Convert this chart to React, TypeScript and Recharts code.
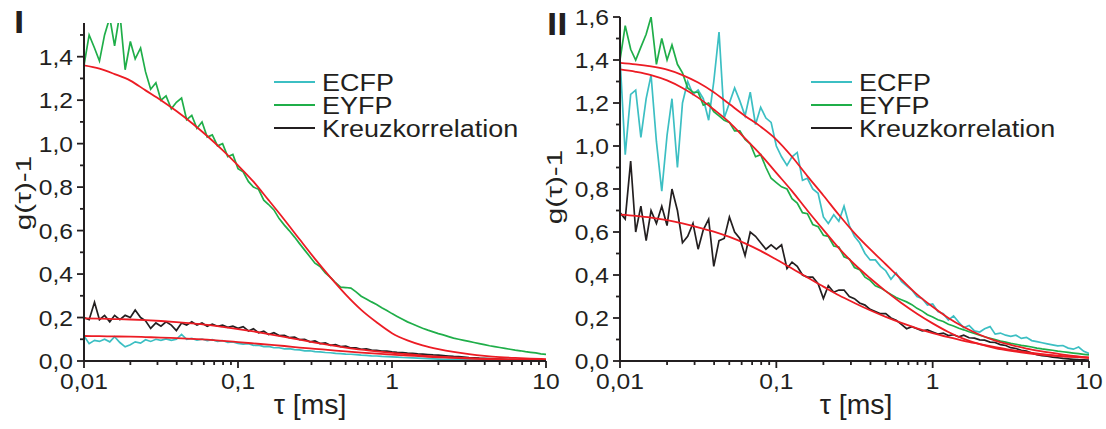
import { LineChart, Line, XAxis, YAxis, Legend } from "recharts";

const FONT = "'Liberation Sans', Arial, Helvetica, sans-serif";
const INK = "#231f20";
const CYAN = "#3cbfc3";
const GREEN = "#1fae49";
const RED = "#ec1c24";

// lag times of the correlator channels [ms]
const TAU = [
  0.01, 0.0108, 0.0117, 0.0126, 0.0136, 0.0147, 0.0158, 0.0171, 0.0185, 0.02,
  0.0215, 0.0233, 0.0251, 0.0271, 0.0293, 0.0316, 0.0341, 0.0369, 0.0398, 0.043,
  0.0464, 0.0501, 0.0541, 0.0584, 0.0631, 0.0681, 0.0736, 0.0794, 0.0858, 0.0926,
  0.1, 0.108, 0.117, 0.126, 0.136, 0.147, 0.158, 0.171, 0.185, 0.2,
  0.215, 0.233, 0.251, 0.271, 0.293, 0.316, 0.341, 0.369, 0.398, 0.43,
  0.464, 0.501, 0.541, 0.584, 0.631, 0.681, 0.736, 0.794, 0.858, 0.926,
  1, 1.08, 1.17, 1.26, 1.36, 1.47, 1.58, 1.71, 1.85, 2,
  2.15, 2.33, 2.51, 2.71, 2.93, 3.16, 3.41, 3.69, 3.98, 4.3,
  4.64, 5.01, 5.41, 5.84, 6.31, 6.81, 7.36, 7.94, 8.58, 9.26,
  10,
];

// lag times of the fit curves [ms]
const FIT_TAU = [
  0.01, 0.0126, 0.0158, 0.02, 0.0251, 0.0316, 0.0398, 0.0501, 0.0631, 0.0794,
  0.1, 0.126, 0.158, 0.2, 0.251, 0.316, 0.398, 0.501, 0.631, 0.794,
  1, 1.26, 1.58, 2, 2.51, 3.16, 3.98, 5.01, 6.31, 7.94, 10,
];

// ---- panel I ----
const I_ECFP = [
  0.115, 0.08, 0.095, 0.09, 0.1, 0.088, 0.112, 0.085, 0.065, 0.075,
  0.088, 0.082, 0.098, 0.09, 0.1, 0.095, 0.102, 0.095, 0.1, 0.122,
  0.1, 0.104, 0.096, 0.101, 0.094, 0.098, 0.09, 0.094, 0.086, 0.088,
  0.081, 0.078, 0.08, 0.072, 0.073, 0.066, 0.067, 0.061, 0.061, 0.056,
  0.057, 0.052, 0.051, 0.047, 0.047, 0.043, 0.042, 0.039, 0.038, 0.035,
  0.034, 0.032, 0.031, 0.029, 0.027, 0.026, 0.024, 0.023, 0.021, 0.02,
  0.019, 0.018, 0.016, 0.015, 0.014, 0.013, 0.012, 0.011, 0.01, 0.009,
  0.008, 0.0075, 0.007, 0.006, 0.0055, 0.005, 0.0045, 0.004, 0.0035, 0.003,
  0.003, 0.0025, 0.002, 0.002, 0.0015, 0.001, 0.001, 0.001, 0.0005, 0.0005,
  0,
];
const I_EYFP = [
  1.36, 1.5, 1.44, 1.38, 1.5, 1.58, 1.45, 1.6, 1.34, 1.47,
  1.39, 1.44, 1.33, 1.25, 1.28, 1.2, 1.22, 1.16, 1.19, 1.21,
  1.11, 1.13, 1.07, 1.1, 1.03, 1.04, 0.99, 1.0, 0.94, 0.95,
  0.885, 0.87, 0.825, 0.8, 0.79, 0.74, 0.72, 0.695, 0.655, 0.625,
  0.6, 0.57, 0.54, 0.51, 0.48, 0.45, 0.435, 0.405, 0.385, 0.36,
  0.34, 0.338, 0.335, 0.318, 0.298, 0.285, 0.272, 0.26, 0.245, 0.232,
  0.218, 0.205, 0.192, 0.18, 0.17, 0.16, 0.151, 0.142, 0.134, 0.126,
  0.12, 0.112, 0.105, 0.1, 0.095, 0.09, 0.085, 0.08, 0.075, 0.07,
  0.066, 0.062, 0.058, 0.054, 0.05, 0.047, 0.043, 0.04, 0.037, 0.033,
  0.03,
];
const I_KREUZ = [
  0.2, 0.19, 0.27, 0.19, 0.21, 0.18, 0.21, 0.19, 0.21, 0.2,
  0.235, 0.2, 0.185, 0.15, 0.175, 0.16, 0.18, 0.165, 0.14, 0.175,
  0.165, 0.18, 0.165, 0.175, 0.16, 0.17, 0.16, 0.165, 0.155, 0.16,
  0.15, 0.158, 0.138, 0.148, 0.13, 0.137, 0.122, 0.13, 0.117, 0.118,
  0.108, 0.11, 0.098, 0.1, 0.088, 0.092, 0.08, 0.083, 0.072, 0.075,
  0.066, 0.068, 0.06, 0.061, 0.054, 0.056, 0.05, 0.049, 0.046, 0.045,
  0.042, 0.04, 0.039, 0.036, 0.035, 0.033, 0.032, 0.03, 0.028, 0.027,
  0.025, 0.023, 0.021, 0.02, 0.018, 0.016, 0.015, 0.013, 0.012, 0.011,
  0.01, 0.009, 0.008, 0.007, 0.006, 0.005, 0.005, 0.004, 0.004, 0.003,
  0.003,
];
const I_ECFP_FIT = [
  0.115, 0.114, 0.113, 0.112, 0.11, 0.108, 0.105, 0.102, 0.098, 0.093,
  0.087, 0.081, 0.075, 0.069, 0.062, 0.056, 0.05, 0.044, 0.039, 0.034,
  0.029, 0.025, 0.021, 0.017, 0.014, 0.011, 0.009, 0.007, 0.006, 0.005, 0.004,
];
const I_EYFP_FIT = [
  1.36, 1.345, 1.32, 1.29, 1.245, 1.2, 1.15, 1.095, 1.035, 0.97,
  0.9, 0.825, 0.74, 0.65, 0.56, 0.47, 0.385, 0.305, 0.235, 0.178,
  0.128, 0.095, 0.072, 0.055, 0.042, 0.032, 0.024, 0.018, 0.014, 0.011, 0.009,
];
const I_KREUZ_FIT = [
  0.196, 0.195, 0.193, 0.191, 0.188, 0.184, 0.179, 0.173, 0.166, 0.157,
  0.147, 0.136, 0.124, 0.111, 0.098, 0.085, 0.073, 0.062, 0.052, 0.044,
  0.037, 0.031, 0.025, 0.02, 0.016, 0.013, 0.01, 0.008, 0.006, 0.005, 0.004,
];

// ---- panel II ----
const II_ECFP = [
  1.41, 0.96, 1.24, 1.26, 1.04, 1.22, 1.33, 1.02, 0.79, 1.05,
  1.22, 0.9, 1.2, 1.3, 1.24, 1.26, 1.22, 1.12, 1.3, 1.53,
  1.13, 1.2, 1.27, 1.21, 1.14, 1.25, 1.1, 1.18, 1.13, 1.11,
  1.0, 0.95, 0.91, 0.95, 0.97, 0.84, 0.85, 0.8, 0.78, 0.67,
  0.64, 0.68, 0.65, 0.72, 0.63, 0.58, 0.55, 0.5, 0.47, 0.47,
  0.44, 0.42, 0.38, 0.41, 0.37, 0.35, 0.33, 0.3, 0.29, 0.26,
  0.265, 0.23, 0.22, 0.19, 0.21, 0.18, 0.155, 0.165, 0.14, 0.135,
  0.15, 0.16, 0.125, 0.13, 0.12, 0.115, 0.12, 0.105, 0.11, 0.095,
  0.09, 0.085, 0.08, 0.075, 0.07, 0.072, 0.06, 0.055, 0.065, 0.045,
  0.035,
];
const II_EYFP = [
  1.4, 1.56, 1.45, 1.4, 1.46, 1.52, 1.6, 1.38, 1.5, 1.4,
  1.47, 1.38, 1.34, 1.27, 1.25, 1.25, 1.19, 1.2, 1.16, 1.14,
  1.12, 1.11, 1.07, 1.07, 1.03, 1.01, 0.95, 0.96, 0.9, 0.85,
  0.83, 0.81, 0.8, 0.755, 0.735, 0.69, 0.685, 0.635, 0.625, 0.585,
  0.58, 0.535, 0.53, 0.485, 0.475, 0.435, 0.425, 0.39, 0.375, 0.35,
  0.34, 0.325, 0.31, 0.295, 0.285, 0.275, 0.262, 0.245, 0.232, 0.215,
  0.205, 0.192, 0.184, 0.171, 0.163, 0.152, 0.145, 0.136, 0.128, 0.12,
  0.113, 0.106, 0.1, 0.093, 0.088, 0.082, 0.078, 0.073, 0.069, 0.065,
  0.06, 0.056, 0.053, 0.05, 0.046, 0.043, 0.04, 0.037, 0.034, 0.031,
  0.028,
];
const II_KREUZ = [
  0.69, 0.66, 0.93, 0.6, 0.72, 0.56, 0.7, 0.64, 0.72, 0.63,
  0.8, 0.7, 0.55, 0.58, 0.64, 0.52, 0.61, 0.66, 0.44, 0.56,
  0.57, 0.67, 0.6, 0.57, 0.49, 0.6, 0.58, 0.55, 0.52, 0.54,
  0.52, 0.54, 0.43, 0.46, 0.44, 0.4, 0.39, 0.39, 0.36, 0.29,
  0.35, 0.32, 0.33, 0.33, 0.3, 0.29, 0.27, 0.26, 0.24, 0.23,
  0.22, 0.22, 0.2, 0.19, 0.17, 0.15, 0.16, 0.15, 0.14, 0.145,
  0.135, 0.125, 0.13, 0.118, 0.122, 0.112, 0.12, 0.108, 0.106, 0.098,
  0.097, 0.088, 0.086, 0.076, 0.072, 0.062, 0.058, 0.05, 0.046, 0.037,
  0.03, 0.025, 0.022, 0.018, 0.015, 0.012, 0.01, 0.008, 0.006, 0.005,
  0.004,
];
const II_ECFP_FIT = [
  1.387, 1.38, 1.37, 1.355, 1.33, 1.295, 1.25, 1.195, 1.14, 1.09,
  1.03, 0.95, 0.86, 0.77, 0.68, 0.595, 0.52, 0.45, 0.38, 0.31,
  0.252, 0.2, 0.158, 0.122, 0.095, 0.075, 0.058, 0.045, 0.034, 0.024, 0.016,
];
const II_EYFP_FIT = [
  1.356, 1.345, 1.33, 1.305, 1.27, 1.225, 1.17, 1.11, 1.035, 0.96,
  0.875, 0.79, 0.7, 0.61, 0.525, 0.45, 0.385, 0.325, 0.27, 0.22,
  0.175, 0.135, 0.103, 0.078, 0.06, 0.047, 0.037, 0.029, 0.023, 0.019, 0.016,
];
const II_KREUZ_FIT = [
  0.681, 0.675, 0.667, 0.655, 0.64, 0.622, 0.602, 0.577, 0.547, 0.512,
  0.472, 0.43, 0.388, 0.346, 0.306, 0.27, 0.236, 0.205, 0.177, 0.152,
  0.13, 0.111, 0.094, 0.079, 0.065, 0.052, 0.041, 0.032, 0.025, 0.019, 0.015,
];

const X_TICKS = [
  0.01, 0.02, 0.03, 0.04, 0.05, 0.06, 0.07, 0.08, 0.09,
  0.1, 0.2, 0.3, 0.4, 0.5, 0.6, 0.7, 0.8, 0.9,
  1, 2, 3, 4, 5, 6, 7, 8, 9, 10,
];
const X_MAJOR = [0.01, 0.1, 1, 10];
const Y_TICKS_I = [0, 0.1, 0.2, 0.3, 0.4, 0.5, 0.6, 0.7, 0.8, 0.9, 1, 1.1, 1.2, 1.3, 1.4, 1.5];
const Y_TICKS_II = [...Y_TICKS_I, 1.6];

const LEGEND = [
  { name: "ECFP", color: CYAN },
  { name: "EYFP", color: GREEN },
  { name: "Kreuzkorrelation", color: INK },
];

const pts = (ts: number[], vs: number[]) => ts.map((t, i) => ({ t, v: vs[i] }));
const comma = (v: number, digits?: number) =>
  (digits === undefined ? String(v) : v.toFixed(digits)).replace(".", ",");

function Txt({ x, y, size, anchor = "start", sx = 1.12, rotate, bold, children }: any) {
  const tf = `translate(${x},${y})${rotate ? ` rotate(${rotate})` : ""} scale(${sx},1)`;
  return (
    <text transform={tf} textAnchor={anchor} fontSize={size} fontFamily={FONT}
      fontWeight={bold ? "bold" : "normal"} fill={INK}>
      {children}
    </text>
  );
}

function XTick({ x, y, payload }: any) {
  const v = payload.value;
  const major = X_MAJOR.includes(v);
  return (
    <g>
      <line x1={x} x2={x} y1={y} y2={y + (major ? 7 : 4)} stroke={INK} strokeWidth={1.8} />
      {major && <Txt x={x} y={y + 28} size={22} anchor="middle">{comma(v)}</Txt>}
    </g>
  );
}

function YTick({ x, y, payload }: any) {
  const v = payload.value;
  const major = Math.round(v * 10) % 2 === 0;
  return (
    <g>
      <line x1={x - (major ? 7 : 4)} x2={x} y1={y} y2={y} stroke={INK} strokeWidth={1.8} />
      {major && <Txt x={x - 11} y={y + 8} size={22} anchor="end">{comma(v, 1)}</Txt>}
    </g>
  );
}

function LegendBox() {
  return (
    <svg width={280} height={72} style={{ overflow: "visible" }}>
      {LEGEND.map((d, k) => {
        const y = 12 + k * 23;
        return (
          <g key={d.name}>
            <line x1={0} x2={41} y1={y} y2={y} stroke={d.color} strokeWidth={2} />
            <Txt x={48} y={y + 9} size={24.5} sx={1.1}>{d.name}</Txt>
          </g>
        );
      })}
    </svg>
  );
}

type PanelProps = {
  left: number;
  width: number;
  margin: { top: number; right: number; bottom: number; left: number };
  yMax: number;
  yTicks: number[];
  ecfp: number[];
  eyfp: number[];
  kreuz: number[];
  ecfpFit: number[];
  eyfpFit: number[];
  kreuzFit: number[];
  legendLeft: number;
  letter: string;
  letterX: number;
  letterY: number;
  yTitleX: number;
  yTitleY: number;
  xTitleX: number;
};

function Panel(p: PanelProps) {
  const axisLine = { stroke: INK, strokeWidth: 2 };
  return (
    <div style={{ position: "absolute", left: p.left, top: 0 }}>
      <LineChart width={p.width} height={429} margin={p.margin}>
        <XAxis
          type="number" dataKey="t" scale="log" domain={[0.01, 10]} allowDataOverflow
          ticks={X_TICKS} interval={0} tick={<XTick />} tickLine={false} tickSize={0} tickMargin={0}
          axisLine={axisLine} height={30}
          label={() => <Txt x={p.xTitleX} y={414} size={27} anchor="middle" sx={1.05}>τ [ms]</Txt>}
        />
        <YAxis
          type="number" domain={[0, p.yMax]} allowDataOverflow
          ticks={p.yTicks} interval={0} tick={<YTick />} tickLine={false} tickSize={0} tickMargin={0}
          axisLine={axisLine} width={50}
          label={() => (
            <g>
              <Txt x={p.yTitleX} y={p.yTitleY} size={22} anchor="middle" rotate={-90} sx={1.35}>g(τ)-1</Txt>
              <Txt x={p.letterX} y={p.letterY} size={32} bold sx={1.15}>{p.letter}</Txt>
            </g>
          )}
        />
        <Legend
          verticalAlign="middle" align="center"
          content={() => <LegendBox />}
          wrapperStyle={{ left: p.legendLeft, top: 70, width: 280, height: 72 }}
        />
        <Line data={pts(TAU, p.ecfp)} dataKey="v" name="ECFP" type="linear" stroke={CYAN}
          strokeWidth={1.7} dot={false} isAnimationActive={false} />
        <Line data={pts(TAU, p.eyfp)} dataKey="v" name="EYFP" type="linear" stroke={GREEN}
          strokeWidth={1.7} dot={false} isAnimationActive={false} />
        <Line data={pts(TAU, p.kreuz)} dataKey="v" name="Kreuzkorrelation" type="linear" stroke={INK}
          strokeWidth={1.7} dot={false} isAnimationActive={false} />
        <Line data={pts(FIT_TAU, p.ecfpFit)} dataKey="v" name="ECFP fit" type="monotone" stroke={RED}
          strokeWidth={1.8} dot={false} isAnimationActive={false} legendType="none" />
        <Line data={pts(FIT_TAU, p.eyfpFit)} dataKey="v" name="EYFP fit" type="monotone" stroke={RED}
          strokeWidth={1.8} dot={false} isAnimationActive={false} legendType="none" />
        <Line data={pts(FIT_TAU, p.kreuzFit)} dataKey="v" name="Kreuz fit" type="monotone" stroke={RED}
          strokeWidth={1.8} dot={false} isAnimationActive={false} legendType="none" />
      </LineChart>
    </div>
  );
}

export default function App() {
  return (
    <div style={{ position: "absolute", left: 0, top: 0, width: 1106, height: 429, background: "#fff", overflow: "hidden" }}>
      <Panel
        left={0} width={575} margin={{ top: 23, right: 29, bottom: 38, left: 34 }}
        yMax={1.555} yTicks={Y_TICKS_I}
        ecfp={I_ECFP} eyfp={I_EYFP} kreuz={I_KREUZ}
        ecfpFit={I_ECFP_FIT} eyfpFit={I_EYFP_FIT} kreuzFit={I_KREUZ_FIT}
        legendLeft={274} letter="I" letterX={14} letterY={33}
        yTitleX={31} yTitleY={193} xTitleX={310}
      />
      <Panel
        left={530} width={576} margin={{ top: 17, right: 17, bottom: 38, left: 40 }}
        yMax={1.6} yTicks={Y_TICKS_II}
        ecfp={II_ECFP} eyfp={II_EYFP} kreuz={II_KREUZ}
        ecfpFit={II_ECFP_FIT} eyfpFit={II_EYFP_FIT} kreuzFit={II_KREUZ_FIT}
        legendLeft={281} letter="II" letterX={17} letterY={35}
        yTitleX={32} yTitleY={187} xTitleX={326}
      />
    </div>
  );
}
